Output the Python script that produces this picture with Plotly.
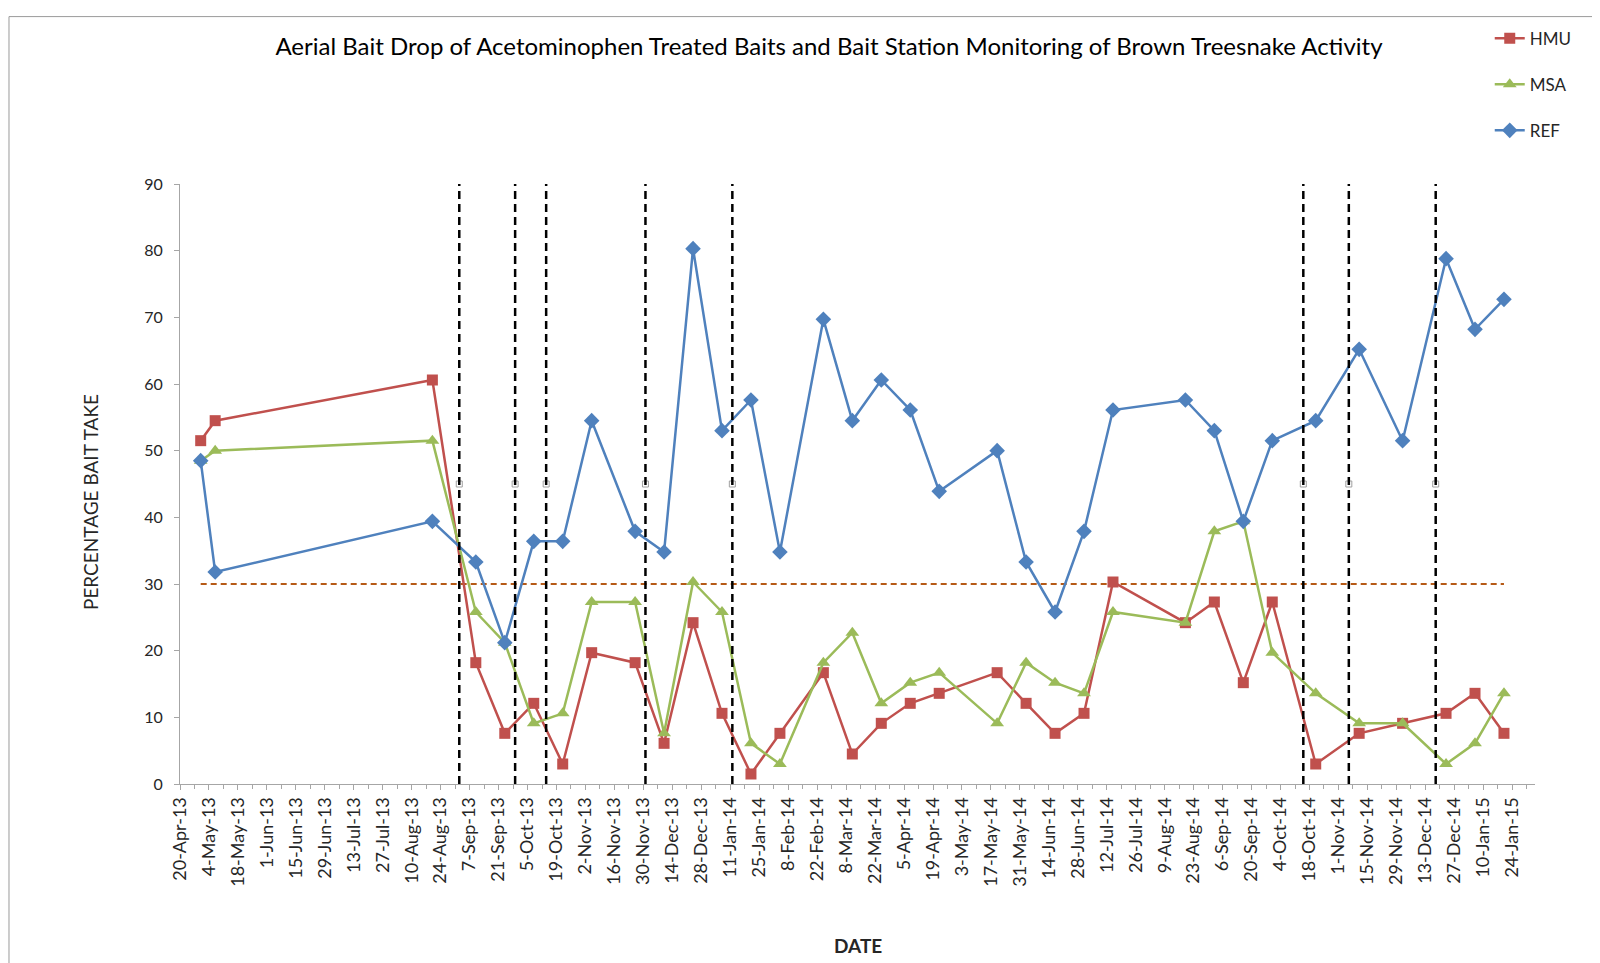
import plotly.graph_objects as go

# ---- data ----
dates = ["2013-04-30", "2013-05-07", "2013-08-20", "2013-09-10", "2013-09-24", "2013-10-08",
         "2013-10-22", "2013-11-05", "2013-11-26", "2013-12-10", "2013-12-24", "2014-01-07",
         "2014-01-21", "2014-02-04", "2014-02-25", "2014-03-11", "2014-03-25", "2014-04-08",
         "2014-04-22", "2014-05-20", "2014-06-03", "2014-06-17", "2014-07-01", "2014-07-15",
         "2014-08-19", "2014-09-02", "2014-09-16", "2014-09-30", "2014-10-21", "2014-11-11",
         "2014-12-02", "2014-12-23", "2015-01-06", "2015-01-20"]

hmu = [51.5, 54.5, 60.6, 18.2, 7.6, 12.1, 3.0, 19.7, 18.2, 6.1,
       24.2, 10.6, 1.5, 7.6, 16.7, 4.5, 9.1, 12.1, 13.6, 16.7,
       12.1, 7.6, 10.6, 30.3, 24.2, 27.3, 15.2, 27.3, 3.0, 7.6,
       9.1, 10.6, 13.6, 7.6]

msa = [48.5, 50.0, 51.5, 25.8, 21.2, 9.1, 10.6, 27.3, 27.3, 7.6,
       30.3, 25.8, 6.1, 3.0, 18.2, 22.7, 12.1, 15.2, 16.7, 9.1,
       18.2, 15.2, 13.6, 25.8, 24.2, 37.9, 39.4, 19.7, 13.6, 9.1,
       9.1, 3.0, 6.1, 13.6]

ref = [48.5, 31.8, 39.4, 33.3, 21.2, 36.4, 36.4, 54.5, 37.9, 34.8,
       80.3, 53.0, 57.6, 34.8, 69.7, 54.5, 60.6, 56.1, 43.9, 50.0,
       33.3, 25.8, 37.9, 56.1, 57.6, 53.0, 39.4, 51.5, 54.5, 65.2,
       51.5, 78.8, 68.2, 72.7]

drop_dates = ["2013-09-02", "2013-09-29", "2013-10-14", "2013-12-01", "2014-01-12",
              "2014-10-15", "2014-11-06", "2014-12-18"]
drop_cap_level = 45
threshold = 30
y_max = 90
x_start = "2013-04-20"
x_end = "2015-02-04"

title_text = ("Aerial Bait Drop of Acetominophen Treated Baits and Bait Station "
              "Monitoring of Brown Treesnake Activity")

FONT = "Lato"
DAY_MS = 86400000

fig = go.Figure()

# threshold line
fig.add_trace(go.Scatter(
    x=[dates[0], dates[-1]], y=[threshold, threshold], mode="lines",
    line=dict(color="#B65A17", width=2, dash="6px,4px"),
    showlegend=False, hoverinfo="skip"))

series = [("HMU", hmu, "#C0504D", "square", 11),
          ("MSA", msa, "#9BBB59", "triangle-up", 12),
          ("REF", ref, "#4F81BD", "diamond", 12)]
for name, vals, color, symbol, size in series:
    fig.add_trace(go.Scatter(
        x=dates, y=vals, name=name, legendgroup=name, mode="lines+markers",
        line=dict(color=color, width=2.5),
        marker=dict(symbol=symbol, size=size, color=color)))

# small caps on the bait-drop lines
fig.add_trace(go.Scatter(
    x=drop_dates, y=[drop_cap_level] * len(drop_dates), mode="markers",
    marker=dict(symbol="square-open", size=6, color="#A0A0A0", line=dict(width=1)),
    showlegend=False, hoverinfo="skip"))

for d in drop_dates:
    fig.add_shape(type="line", xref="x", yref="y", x0=d, x1=d, y0=0, y1=y_max,
                  line=dict(color="black", width=2.5, dash="8px,5px"), layer="above")

# chart border
fig.add_shape(type="rect", xref="paper", yref="paper", x0=-0.1262, x1=1.2, y0=-0.7, y1=1.2790,
              line=dict(color="#9A9A9A", width=1), layer="below")

fig.update_layout(
    width=1592, height=955,
    margin=dict(l=172, r=65, t=170, b=179),
    paper_bgcolor="white", plot_bgcolor="white",
    font=dict(family=FONT, color="#262626"),
    title=dict(text=title_text, x=0.5157, xref="container", xanchor="center",
               y=0.960, yref="container", yanchor="middle",
               font=dict(family=FONT, size=24, color="#000000")),
    legend=dict(x=0.9666, y=1.2723, xanchor="left", yanchor="top",
                traceorder="grouped", tracegroupgap=21,
                font=dict(family=FONT, size=17, color="#262626"),
                bgcolor="rgba(0,0,0,0)", itemwidth=30),
    showlegend=True,
)

fig.update_xaxes(
    type="date", range=[x_start, x_end],
    tick0=x_start, dtick=14 * DAY_MS, tickformat="%-d-%b-%y", tickangle=-90,
    ticks="outside", ticklen=5, tickcolor="#A6A6A6",
    minor=dict(tick0=x_start, dtick=7 * DAY_MS, ticks="outside", ticklen=4,
               tickcolor="#A6A6A6", showgrid=False),
    showline=True, linecolor="#A6A6A6", linewidth=1,
    showgrid=False, zeroline=False,
    tickfont=dict(family=FONT, size=18, color="#262626"))

fig.update_yaxes(
    range=[0, y_max], dtick=10, ticks="outside", ticklen=5, tickcolor="#A6A6A6",
    ticklabelstandoff=8,
    showline=True, linecolor="#A6A6A6", linewidth=1,
    showgrid=False, zeroline=False,
    tickfont=dict(family=FONT, size=16, color="#262626"))

fig.add_annotation(text="PERCENTAGE BAIT TAKE", xref="paper", yref="paper",
                   x=-0.0664, y=0.47, textangle=-90, showarrow=False,
                   xanchor="center", yanchor="middle",
                   font=dict(family=FONT, size=19, color="#262626"))
fig.add_annotation(text="<b>DATE</b>", xref="paper", yref="paper",
                   x=0.5, y=-0.269, showarrow=False, xanchor="center", yanchor="middle",
                   font=dict(family=FONT, size=19, color="#262626"))

fig.write_html("out.html")
